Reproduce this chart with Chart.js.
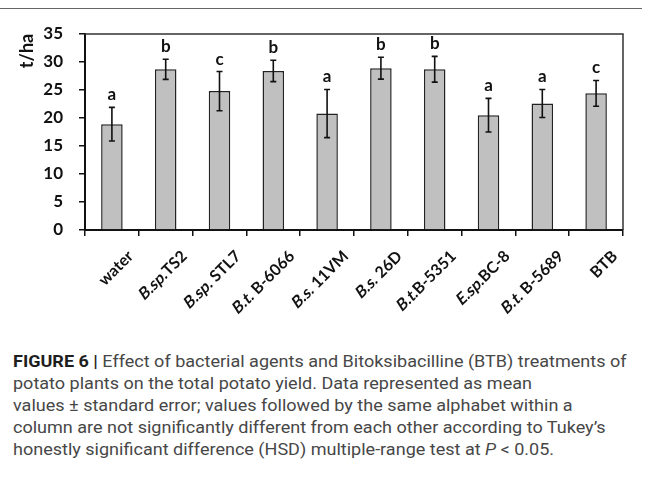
<!DOCTYPE html>
<html>
<head>
<meta charset="utf-8">
<script src="https://cdn.jsdelivr.net/npm/chart.js@4.4.0/dist/chart.umd.min.js"></script>
<style>
  body { margin: 0; background: #fff; width: 652px; height: 484px; overflow: hidden; position: relative; }
  #rule { position: absolute; left: 0; top: 8px; width: 642px; border-top: 1px solid #666; }
  #wrap { position: absolute; left: 0; top: 0; width: 652px; height: 340px; }
  #caption { position: absolute; left: 13px; top: 351px; white-space: nowrap;
    font-family: "Roboto", "Liberation Sans", sans-serif;
    font-size: 16px; line-height: 22px; color: #474747; }
  #caption span { display: block; transform-origin: 0 0; }
  #caption b { color: #1e1e1e; }
</style>
</head>
<body>
<div id="rule"></div>
<div id="wrap"><canvas id="yieldChart" width="652" height="340"></canvas></div>
<div id="caption">
  <span><b>FIGURE 6 |</b> Effect of bacterial agents and Bitoksibacilline (BTB) treatments of</span>
  <span>potato plants on the total potato yield. Data represented as mean</span>
  <span>values ± standard error; values followed by the same alphabet within a</span>
  <span>column are not significantly different from each other according to Tukey’s</span>
  <span>honestly significant difference (HSD) multiple-range test at <i>P</i> &lt; 0.05.</span>
</div>

<script>
// treatments, mean yield (t/ha), standard error, Tukey groups
const treatments = ['water', 'B.sp.TS2', 'B.sp. STL7', 'B.t. B-6066', 'B.s. 11VM',
                    'B.s. 26D', 'B.t.B-5351', 'E.sp.BC-8', 'B.t. B-5689', 'BTB'];
const yieldMean = [18.9, 28.7, 24.8, 28.4, 20.8, 28.9, 28.7, 20.5, 22.6, 24.4];
const yieldErr  = [3.0, 1.8, 3.5, 1.9, 4.3, 1.95, 2.3, 3.0, 2.5, 2.3];
const groupLetters = ['a', 'b', 'c', 'b', 'a', 'b', 'b', 'a', 'a', 'c'];
const yTicks = [0, 5, 10, 15, 20, 25, 30, 35];

const FONT = 'Lato, "Open Sans", sans-serif';

// split "B.sp.TS2" into italic genus part and the strain code
function splitLabel(s) {
  const m = s.match(/^([A-Z]\.(?:sp|s|t)\.)(\s?)(.*)$/);
  if (!m) return [{ t: s, it: false }];
  return [{ t: m[1], it: true }, { t: m[2] + m[3], it: false }];
}

const overlay = {
  id: 'overlay',
  afterDatasetsDraw(chart) {
    const { ctx, chartArea: a, scales: { x, y } } = chart;
    ctx.save();

    // top and right frame of the plot box
    ctx.strokeStyle = '#333';
    ctx.lineWidth = 1.5;
    ctx.beginPath();
    ctx.moveTo(a.left, a.top);
    ctx.lineTo(a.right, a.top);
    ctx.lineTo(a.right, a.bottom);
    ctx.stroke();

    // error bars + letters
    ctx.strokeStyle = '#111';
    ctx.lineWidth = 1.6;
    ctx.fillStyle = '#111';
    ctx.font = 'bold 17px ' + FONT;
    ctx.textAlign = 'center';
    ctx.textBaseline = 'alphabetic';
    yieldMean.forEach((v, i) => {
      const cx = x.getPixelForValue(i);
      const hi = y.getPixelForValue(v + yieldErr[i]);
      const lo = y.getPixelForValue(v - yieldErr[i]);
      ctx.beginPath();
      ctx.moveTo(cx, hi); ctx.lineTo(cx, lo);
      ctx.moveTo(cx - 3, hi); ctx.lineTo(cx + 3, hi);
      ctx.moveTo(cx - 3, lo); ctx.lineTo(cx + 3, lo);
      ctx.stroke();
      ctx.fillText(groupLetters[i], cx, hi - 7);
    });

    // rotated x labels, genus part slanted like italics
    ctx.font = 'bold 16px ' + FONT;
    ctx.textAlign = 'left';
    ctx.textBaseline = 'top';
    treatments.forEach((lab, i) => {
      const parts = splitLabel(lab);
      let total = 0;
      parts.forEach(p => { p.w = ctx.measureText(p.t).width; total += p.w; });
      const cx = x.getPixelForValue(i);
      ctx.save();
      ctx.translate(cx + 13, a.bottom + 18);
      ctx.rotate(-Math.PI / 4);
      let px = -total;
      parts.forEach(p => {
        ctx.save();
        ctx.translate(px, 0);
        if (p.it) ctx.transform(1, 0, -0.22, 1, 2.5, 0);
        ctx.fillText(p.t, 0, 0);
        ctx.restore();
        px += p.w;
      });
      ctx.restore();
    });

    // y axis title
    ctx.save();
    ctx.translate(27, 51);
    ctx.rotate(-Math.PI / 2);
    ctx.font = 'bold 18px ' + FONT;
    ctx.textAlign = 'center';
    ctx.textBaseline = 'middle';
    ctx.fillText('t/ha', 0, 0);
    ctx.restore();

    ctx.restore();
  }
};

new Chart(document.getElementById('yieldChart'), {
  type: 'bar',
  data: {
    labels: treatments,
    datasets: [{
      data: yieldMean,
      backgroundColor: '#c0c0c0',
      borderColor: '#222',
      borderWidth: 1.5,
      barPercentage: 0.4,
      categoryPercentage: 1
    }]
  },
  options: {
    responsive: false,
    animation: false,
    layout: { padding: { top: 34, right: 29, left: 0, bottom: 0 } },
    plugins: { legend: { display: false }, tooltip: { enabled: false } },
    scales: {
      x: {
        afterFit(s) { s.height = 110; },
        grid: { drawOnChartArea: false, color: '#111', tickLength: 6, lineWidth: 1.5 },
        border: { color: '#111', width: 2 },
        ticks: { display: false }
      },
      y: {
        min: 0, max: 35,
        afterFit(s) { s.width = 85; },
        afterBuildTicks(s) { s.ticks = yTicks.map(v => ({ value: v })); },
        grid: { drawOnChartArea: false, color: '#111', tickLength: 6, lineWidth: 1.5 },
        border: { color: '#111', width: 2 },
        ticks: { padding: 16, color: '#111', font: { family: FONT, size: 17, weight: 'bold' } }
      }
    }
  },
  plugins: [overlay]
});

// squeeze the caption so its first line spans the same width as in the figure
const spans = document.querySelectorAll('#caption span');
const k = 614 / spans[0].scrollWidth;
spans.forEach(s => { s.style.transform = 'scaleX(' + k + ')'; });
</script>
</body>
</html>
